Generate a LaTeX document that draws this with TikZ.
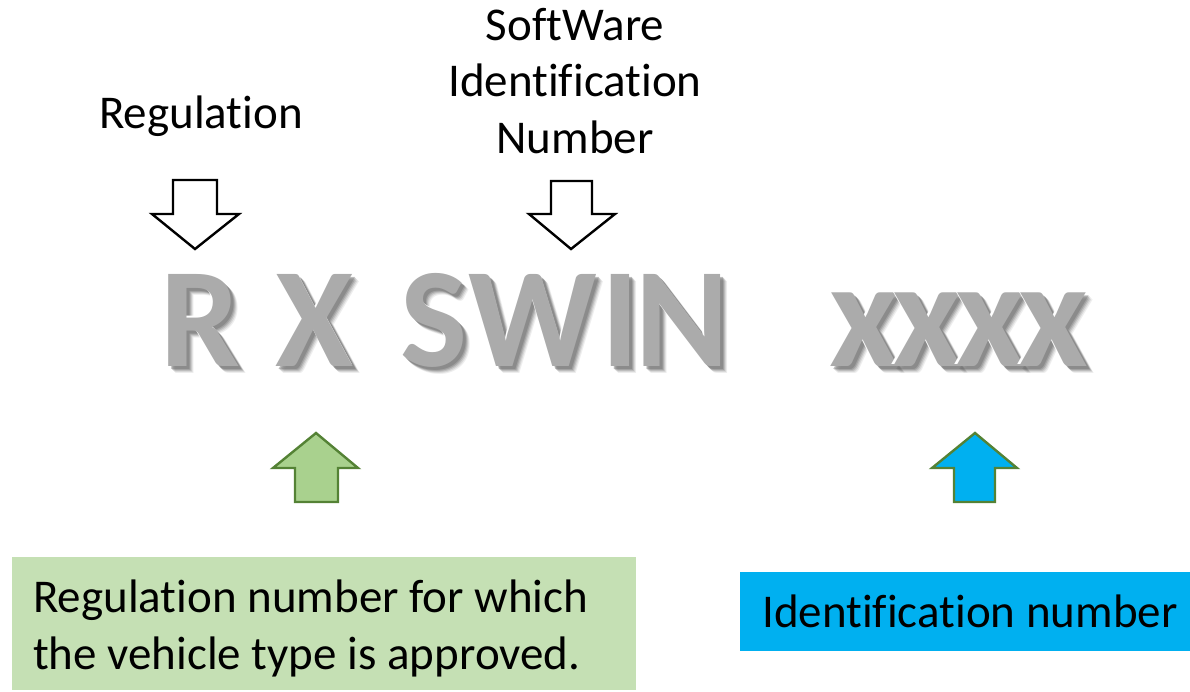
\documentclass[tikz,border=0pt]{standalone}
\usepackage{fontspec}
\setmainfont[Ligatures={NoCommon,NoContextual,NoRare}]{Carlito}
\newfontfamily\bigbold[BoldFont={Carlito Bold}]{Carlito}
\newcommand\nolig{\kern0pt{}}
\definecolor{arrowgreenfill}{HTML}{A9D18E}
\definecolor{arrowgreenline}{HTML}{548235}
\definecolor{boxgreen}{HTML}{C5E0B4}
\definecolor{boxblue}{HTML}{00B0F0}
\definecolor{lettergray}{HTML}{ABABAB}
\definecolor{shadowgray}{HTML}{6F6F6F}
\begin{document}
\begin{tikzpicture}[x=1pt,y=-1pt,
  labeltext/.style={font=\fontsize{47}{56.5}\selectfont, inner sep=0pt},
  bigltr/.style={font=\bigbold\bfseries\fontsize{142}{142}\selectfont, anchor=base, inner sep=0pt},
  smallx/.style={font=\bigbold\bfseries\fontsize{152}{152}\selectfont, anchor=base, inner sep=0pt},
  downarrow/.style={draw=black, fill=white, line width=2.4pt, line join=miter},
  uparrowgreen/.style={draw=arrowgreenline, fill=arrowgreenfill, line width=2.4pt, line join=miter},
  uparrowblue/.style={draw=arrowgreenline, fill=boxblue, line width=2.4pt, line join=miter},
  greenbox/.style={fill=boxgreen, draw=none, inner sep=0pt, anchor=north west},
  bluebox/.style={fill=boxblue, draw=none, inner sep=0pt, anchor=north west}
]
\useasboundingbox (0,0) rectangle (1190,691);

% top labels
\node[labeltext, anchor=base] (reglabel) at (201,128) {Regulat\nolig ion};
\node[labeltext, anchor=north, align=center] (swinlabel) at (575,8) {SoftWare\\Identif\nolig icat\nolig ion\\Number};

% down arrows
\draw[downarrow] (173,180) -- (217,180) -- (217,214) -- (239,214) -- (195,249) -- (152,214) -- (173,214) -- cycle;
\draw[downarrow] (551,181) -- (592,181) -- (592,214) -- (615,214) -- (571,249) -- (529,214) -- (551,214) -- cycle;

% big 3D letters: shadow, highlight, face
\foreach \n/\l/\x in {r/R/200, x/X/315, s/S/434, w/W/533, i/I/620, n/N/682}{
  \foreach \d/\o in {7/0.12, 6/0.18, 5/0.25, 4/0.35, 3/0.45}{
    \node[bigltr, text=shadowgray, opacity=\o] (sh\n\d) at (\x+\d,366+\d) {\l};
  }
  \node[bigltr, text=white] (hl\n) at (\x-1.5,366-1.5) {\l};
  \node[bigltr, text=lettergray] (face\n) at (\x,366) {\l};
}
\foreach \k/\x in {1/864, 2/927, 3/990, 4/1053}{
  \foreach \d/\o in {7/0.12, 6/0.18, 5/0.25, 4/0.35, 3/0.45}{
    \node[smallx, text=shadowgray, opacity=\o] (xsh\k\d) at (\x+\d,366+\d) {x};
  }
  \node[smallx, text=white] (xhl\k) at (\x-1.5,366-1.5) {x};
  \node[smallx, text=lettergray] (xface\k) at (\x,366) {x};
}

% up arrows
\draw[uparrowgreen] (316,433) -- (358,468) -- (338,468) -- (338,502) -- (295,502) -- (295,468) -- (273,468) -- cycle;
\draw[uparrowblue] (975,433) -- (1017,468) -- (995,468) -- (995,502) -- (954,502) -- (954,468) -- (932,468) -- cycle;

% boxes
\node[greenbox, minimum width=624pt, minimum height=133pt] (gbox) at (12,557) {};
\node[labeltext, anchor=base west, align=left] (gtext) at (33,669) {Regulat\nolig ion number for which\\the vehicle type is approved.};
\node[bluebox, minimum width=450pt, minimum height=79pt] (bbox) at (740,572) {};
\node[labeltext, anchor=base west] (btext) at (762,627) {Identif\nolig icat\nolig ion number};
\end{tikzpicture}
\end{document}
